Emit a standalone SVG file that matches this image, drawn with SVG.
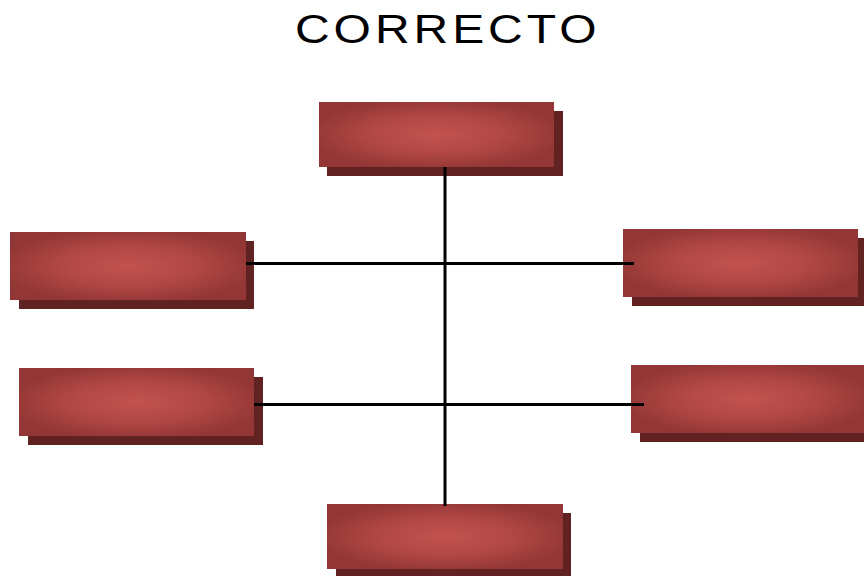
<svg xmlns="http://www.w3.org/2000/svg" width="864" height="576" viewBox="0 0 864 576">
<defs>
<radialGradient id="g" cx="0.5" cy="0.5" r="0.55">
<stop offset="0" stop-color="#c25250"/>
<stop offset="0.5" stop-color="#b24846"/>
<stop offset="1" stop-color="#923735"/>
</radialGradient>
<style>
.sh{fill:#612222}
.bx{fill:url(#g)}
.ln{stroke:#000;stroke-width:3;fill:none}
.t{font-family:"Liberation Sans",Arial,sans-serif;font-size:40px;fill:#000;letter-spacing:3.3px}
</style>
</defs>
<rect width="864" height="576" fill="#fff"/>
<text class="t" x="0" y="43" transform="translate(295 0) scale(1.2 1)">CORRECTO</text>
<g id="n-top"><rect class="sh" x="327" y="111" width="236" height="65"/><rect class="bx" x="319" y="102" width="235" height="65"/></g>
<g id="n-left1"><rect class="sh" x="19" y="241" width="235" height="68"/><rect class="bx" x="10" y="232" width="236" height="68"/></g>
<g id="n-right1"><rect class="sh" x="632" y="238" width="232" height="68"/><rect class="bx" x="623" y="229" width="235" height="68"/></g>
<g id="n-left2"><rect class="sh" x="28" y="377" width="235" height="68"/><rect class="bx" x="19" y="368" width="235" height="68"/></g>
<g id="n-right2"><rect class="sh" x="640" y="374" width="224" height="68"/><rect class="bx" x="631" y="365" width="233" height="68"/></g>
<g id="n-bottom"><rect class="sh" x="336" y="513" width="235" height="63"/><rect class="bx" x="327" y="504" width="236" height="65"/></g>
<g id="connectors">
<line class="ln" x1="445" y1="167" x2="445" y2="506"/>
<line class="ln" x1="246" y1="263.5" x2="634" y2="263.5"/>
<line class="ln" x1="254" y1="404.5" x2="644" y2="404.5"/>
</g>
</svg>
